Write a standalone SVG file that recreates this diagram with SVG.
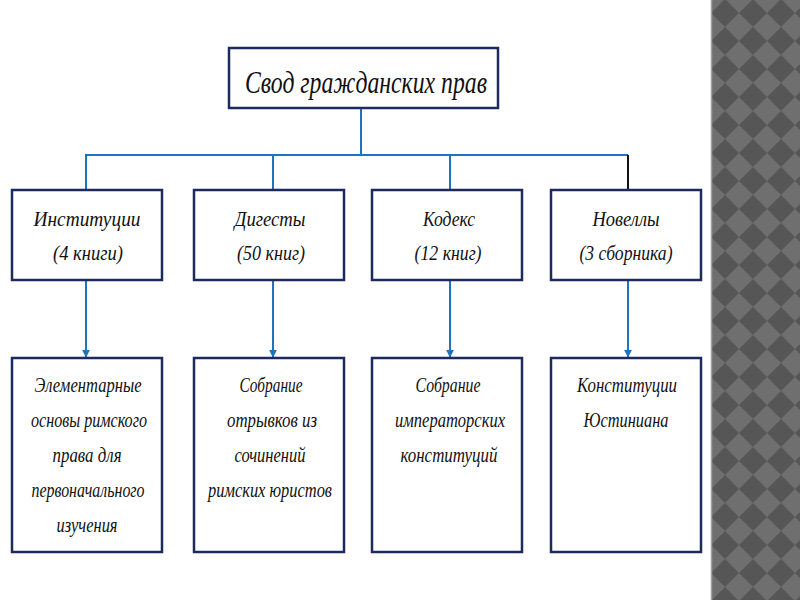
<svg xmlns="http://www.w3.org/2000/svg" width="800" height="600" viewBox="0 0 800 600">
  <defs>
    <pattern id="diam" patternUnits="userSpaceOnUse" x="711" y="-1" width="28" height="28">
      <rect width="28" height="28" fill="#6f6f6f"/>
      <polygon points="14,0 28,14 14,28 0,14" fill="#565656"/>
    </pattern>
    <marker id="arrB" viewBox="0 0 10 10" refX="9" refY="5" markerWidth="8" markerHeight="8" orient="auto" markerUnits="userSpaceOnUse">
      <path d="M0,0 L10,5 L0,10 z" fill="#1f74c0"/>
    </marker>
  </defs>
  <style>
    .box { fill: #ffffff; stroke: #1c2a5e; stroke-width: 2.5; }
    .con { fill: none; stroke: #1f74c0; stroke-width: 2; }
    .t { font-family: "Liberation Serif", "DejaVu Serif", serif; font-style: italic; fill: #111111; text-anchor: middle; }
    .t1 { font-size: 31px; }
    .t2 { font-size: 22px; }
  </style>
  <rect width="800" height="600" fill="#ffffff"/>
  <rect x="711" y="0" width="89" height="600" fill="url(#diam)"/>
  <line x1="711.5" y1="0" x2="711.5" y2="600" stroke="#a0a0a0" stroke-width="1.5"/>

  <g id="connectors">
    <line class="con" x1="361" y1="108" x2="361" y2="155"/>
    <polyline class="con" points="86,190 86,155 628,155"/>
    <line class="con" x1="273" y1="155" x2="273" y2="190"/>
    <line class="con" x1="450" y1="155" x2="450" y2="190"/>
    <line x1="628" y1="155" x2="628" y2="190" stroke="#111111" stroke-width="2"/>
    <line class="con" x1="86" y1="281" x2="86" y2="357" marker-end="url(#arrB)"/>
    <line class="con" x1="273" y1="281" x2="273" y2="357" marker-end="url(#arrB)"/>
    <line class="con" x1="450" y1="281" x2="450" y2="357" marker-end="url(#arrB)"/>
    <line class="con" x1="628" y1="281" x2="628" y2="357" marker-end="url(#arrB)"/>
  </g>

  <g id="root">
    <rect class="box" x="229" y="48" width="269" height="60"/>
    <text class="t t1" x="366" y="93" textLength="242" lengthAdjust="spacingAndGlyphs">Свод гражданских прав</text>
  </g>

  <g id="institutions">
    <rect class="box" x="12" y="190" width="150" height="90"/>
    <text class="t t2" x="87" y="226" textLength="107" lengthAdjust="spacingAndGlyphs">Институции</text>
    <text class="t t2" x="88" y="260" textLength="70" lengthAdjust="spacingAndGlyphs">(4 книги)</text>
  </g>
  <g id="digests">
    <rect class="box" x="194" y="190" width="150" height="90"/>
    <text class="t t2" x="270" y="226" textLength="71" lengthAdjust="spacingAndGlyphs">Дигесты</text>
    <text class="t t2" x="271" y="260" textLength="68" lengthAdjust="spacingAndGlyphs">(50 книг)</text>
  </g>
  <g id="codex">
    <rect class="box" x="372" y="190" width="150" height="90"/>
    <text class="t t2" x="449" y="226" textLength="52" lengthAdjust="spacingAndGlyphs">Кодекс</text>
    <text class="t t2" x="448" y="260" textLength="67" lengthAdjust="spacingAndGlyphs">(12 книг)</text>
  </g>
  <g id="novellae">
    <rect class="box" x="551" y="190" width="150" height="90"/>
    <text class="t t2" x="626" y="226" textLength="67" lengthAdjust="spacingAndGlyphs">Новеллы</text>
    <text class="t t2" x="626" y="260" textLength="93" lengthAdjust="spacingAndGlyphs">(3 сборника)</text>
  </g>

  <g id="desc-institutions">
    <rect class="box" x="12" y="358" width="150" height="194"/>
    <text class="t t2" x="88" y="392" textLength="107" lengthAdjust="spacingAndGlyphs">Элементарные</text>
    <text class="t t2" x="89" y="427" textLength="116" lengthAdjust="spacingAndGlyphs">основы римского</text>
    <text class="t t2" x="87" y="462" textLength="69" lengthAdjust="spacingAndGlyphs">права для</text>
    <text class="t t2" x="88" y="497" textLength="113" lengthAdjust="spacingAndGlyphs">первоначального</text>
    <text class="t t2" x="87" y="532" textLength="61" lengthAdjust="spacingAndGlyphs">изучения</text>
  </g>
  <g id="desc-digests">
    <rect class="box" x="194" y="358" width="150" height="194"/>
    <text class="t t2" x="271" y="392" textLength="63" lengthAdjust="spacingAndGlyphs">Собрание</text>
    <text class="t t2" x="272" y="427" textLength="90" lengthAdjust="spacingAndGlyphs">отрывков из</text>
    <text class="t t2" x="270" y="462" textLength="71" lengthAdjust="spacingAndGlyphs">сочинений</text>
    <text class="t t2" x="270" y="497" textLength="124" lengthAdjust="spacingAndGlyphs">римских юристов</text>
  </g>
  <g id="desc-codex">
    <rect class="box" x="372" y="358" width="150" height="194"/>
    <text class="t t2" x="448" y="392" textLength="65" lengthAdjust="spacingAndGlyphs">Собрание</text>
    <text class="t t2" x="450" y="427" textLength="110" lengthAdjust="spacingAndGlyphs">императорских</text>
    <text class="t t2" x="449" y="462" textLength="97" lengthAdjust="spacingAndGlyphs">конституций</text>
  </g>
  <g id="desc-novellae">
    <rect class="box" x="551" y="358" width="150" height="194"/>
    <text class="t t2" x="627" y="392" textLength="100" lengthAdjust="spacingAndGlyphs">Конституции</text>
    <text class="t t2" x="626" y="427" textLength="85" lengthAdjust="spacingAndGlyphs">Юстиниана</text>
  </g>
</svg>
